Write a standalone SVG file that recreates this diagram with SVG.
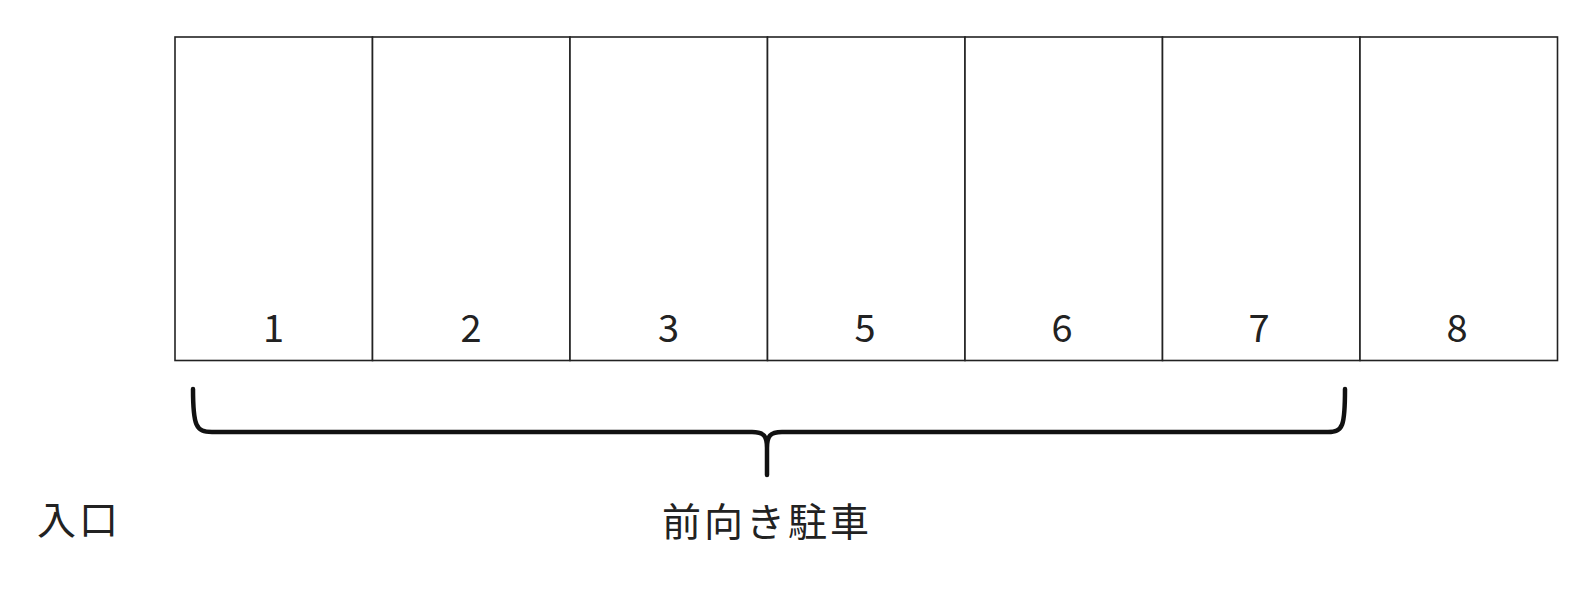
<svg xmlns="http://www.w3.org/2000/svg" width="1574" height="600" viewBox="0 0 1574 600">
<style>
.cell{fill:#fff;stroke:#222;stroke-width:1.6}
.num{font-family:"Noto Sans CJK JP","Noto Sans",sans-serif;font-size:38px;fill:#222;text-anchor:middle}
.lbl{font-family:"Noto Sans CJK JP",sans-serif;font-size:39px;fill:#222;letter-spacing:3px}
.brace{fill:none;stroke:#111;stroke-width:4.5;stroke-linecap:round;stroke-linejoin:round}
</style>
<rect width="1574" height="600" fill="#fff"/>
<g id="slot1"><rect class="cell" x="175" y="37" width="197.5" height="323.5"/><text class="num" x="273.5" y="342">1</text></g>
<g id="slot2"><rect class="cell" x="372.5" y="37" width="197.5" height="323.5"/><text class="num" x="471" y="342">2</text></g>
<g id="slot3"><rect class="cell" x="570" y="37" width="197.5" height="323.5"/><text class="num" x="668.5" y="342">3</text></g>
<g id="slot5"><rect class="cell" x="767.5" y="37" width="197.5" height="323.5"/><text class="num" x="865" y="342">5</text></g>
<g id="slot6"><rect class="cell" x="965" y="37" width="197.5" height="323.5"/><text class="num" x="1062" y="342">6</text></g>
<g id="slot7"><rect class="cell" x="1162.5" y="37" width="197.5" height="323.5"/><text class="num" x="1259" y="342">7</text></g>
<g id="slot8"><rect class="cell" x="1360" y="37" width="197.5" height="323.5"/><text class="num" x="1457" y="342">8</text></g>
<g id="connectors">
<path class="brace" d="M193,389 C193,426 196,432 212,432 L752,432 C764,432 767,436 767,448 L767,475 M767,448 C767,436 770,432 782,432 L1328,432 C1343,432 1345,426 1345,389"/>
</g>
<g id="entrance"><text class="lbl" x="37" y="534">入口</text></g>
<g id="label-front"><text class="lbl" x="662" y="536">前向き駐車</text></g>
</svg>
